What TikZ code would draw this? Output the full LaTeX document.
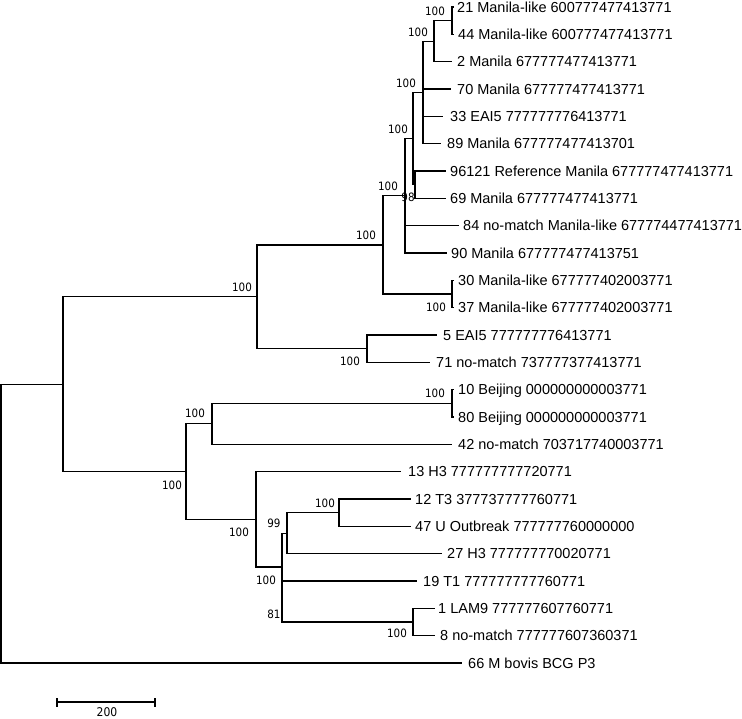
\documentclass[tikz,border=0pt]{standalone}
\usepackage{fontspec}
\setmainfont{Liberation Sans}
\newfontfamily\bsfont{DejaVu Sans Condensed}
\begin{document}
\begin{tikzpicture}[x=1pt,y=-1pt,
  br/.style={line width=1.3pt, line join=miter},
  leaf/.style={anchor=base west, inner sep=0pt, font=\fontsize{14.5}{16}\selectfont},
  boot/.style={inner sep=0pt, font=\bsfont\fontsize{11.5}{12}\selectfont}]
\useasboundingbox (0,0) rectangle (742,719);
% internal nodes
\coordinate (root) at (1,523.6);
\coordinate (n63) at (63,384.2);
\coordinate (I) at (257,296.8);
\coordinate (G) at (383,244.9);
\coordinate (E) at (405,195.8);
\coordinate (D) at (413,138.5);
\coordinate (D2) at (415,184.7);
\coordinate (C) at (423,92.4);
\coordinate (B) at (434,41.2);
\coordinate (A) at (452,20.7);
\coordinate (F) at (452,294);
\coordinate (H) at (367,348.7);
\coordinate (L) at (186,471.6);
\coordinate (K) at (212,423.8);
\coordinate (J) at (452,403.3);
\coordinate (M) at (256,519.4);
\coordinate (N) at (282,567);
\coordinate (N2) at (282,601.5);
\coordinate (O) at (287,533.2);
\coordinate (Q) at (339,512.7);
\coordinate (P) at (413,622);
% leaf tips
\coordinate (l21) at (453.5,7);
\coordinate (l44) at (453.5,34.3);
\coordinate (l2) at (452,61.7);
\coordinate (l70) at (451,89);
\coordinate (l33) at (443,116.3);
\coordinate (l89) at (441,143.7);
\coordinate (l96121) at (446,171);
\coordinate (l69) at (446,198.3);
\coordinate (l84) at (459,225.7);
\coordinate (l90) at (447,253);
\coordinate (l30) at (453.5,280.3);
\coordinate (l37) at (453.5,307.7);
\coordinate (l5) at (437,335);
\coordinate (l71) at (430,362.3);
\coordinate (l10) at (453.5,389.7);
\coordinate (l80) at (453.5,417);
\coordinate (l42) at (452,444.3);
\coordinate (l13) at (401,471.7);
\coordinate (l12) at (411,499);
\coordinate (l47) at (411,526.3);
\coordinate (l27) at (442,553.7);
\coordinate (l19) at (417,581);
\coordinate (l1) at (435,608.3);
\coordinate (l8) at (435,635.7);
\coordinate (l66) at (462,663);
% branches
\foreach \p/\c in {root/n63,root/l66,n63/I,n63/L,I/G,I/H,G/E,G/F,E/D,E/l84,E/l90,
  D/C,D/D2,D2/l96121,D2/l69,C/B,C/l70,C/l33,C/l89,B/A,B/l2,A/l21,A/l44,F/l30,F/l37,
  H/l5,H/l71,L/K,L/M,K/J,K/l42,J/l10,J/l80,M/l13,M/N,N/O,N/N2,O/Q,O/l27,Q/l12,Q/l47,
  N2/l19,N2/P,P/l1,P/l8}
  \draw[br] (\p) |- (\c);
% leaf labels
\node[leaf] (t21) at (457,12.2) {21 Manila-like 600777477413771};
\node[leaf] (t44) at (458,39.5) {44 Manila-like 600777477413771};
\node[leaf] (t2) at (457,66.9) {2 Manila 677777477413771};
\node[leaf] (t70) at (457,94.2) {70 Manila 677777477413771};
\node[leaf] (t33) at (450,121.5) {33 EAI5 777777776413771};
\node[leaf] (t89) at (447,148.9) {89 Manila 677777477413701};
\node[leaf] (t96121) at (450,176.2) {96121 Reference Manila 677777477413771};
\node[leaf] (t69) at (450,203.5) {69 Manila 677777477413771};
\node[leaf] (t84) at (463,230.9) {84 no-match Manila-like 677774477413771};
\node[leaf] (t90) at (451,258.2) {90 Manila 677777477413751};
\node[leaf] (t30) at (458,285.5) {30 Manila-like 677777402003771};
\node[leaf] (t37) at (458,312.9) {37 Manila-like 677777402003771};
\node[leaf] (t5) at (443,340.2) {5 EAI5 777777776413771};
\node[leaf] (t71) at (436,367.5) {71 no-match 737777377413771};
\node[leaf] (t10) at (458,394.9) {10 Beijing 000000000003771};
\node[leaf] (t80) at (458,422.2) {80 Beijing 000000000003771};
\node[leaf] (t42) at (458,449.5) {42 no-match 703717740003771};
\node[leaf] (t13) at (408,476.9) {13 H3 777777777720771};
\node[leaf] (t12) at (415,504.2) {12 T3 377737777760771};
\node[leaf] (t47) at (415,531.5) {47 U Outbreak 777777760000000};
\node[leaf] (t27) at (447,558.9) {27 H3 777777770020771};
\node[leaf] (t19) at (423,586.2) {19 T1 777777777760771};
\node[leaf] (t1) at (438,613.5) {1 LAM9 777777607760771};
\node[leaf] (t8) at (440,640.9) {8 no-match 777777607360371};
\node[leaf] (t66) at (468,668.2) {66 M bovis BCG P3};
% bootstrap values
\node[boot] (bA) at (435,11) {100};
\node[boot] (bB) at (418,32) {100};
\node[boot] (bC) at (406,83) {100};
\node[boot] (bD) at (398,129) {100};
\node[boot] (bD2) at (408,197) {98};
\node[boot] (bE) at (388,186) {100};
\node[boot] (bG) at (366,235) {100};
\node[boot] (bI) at (242,287) {100};
\node[boot] (bF) at (436,307) {100};
\node[boot] (bH) at (350,361) {100};
\node[boot] (bJ) at (435,393) {100};
\node[boot] (bK) at (195,413) {100};
\node[boot] (bL) at (172,485) {100};
\node[boot] (bM) at (239,532) {100};
\node[boot] (bO) at (274,523) {99};
\node[boot] (bQ) at (325,503) {100};
\node[boot] (bN) at (266,580) {100};
\node[boot] (bN2) at (274,614) {81};
\node[boot] (bP) at (397,633) {100};
% scale bar
\coordinate (sbL) at (57,702);
\coordinate (sbR) at (155,702);
\draw[br] (sbL) -- (sbR);
\draw[br] ([yshift=-4.5pt]sbL) -- ([yshift=4.5pt]sbL);
\draw[br] ([yshift=-4.5pt]sbR) -- ([yshift=4.5pt]sbR);
\node[boot, font=\bsfont\fontsize{12}{12}\selectfont] (sbt) at (107,712) {200};
\end{tikzpicture}
\end{document}
